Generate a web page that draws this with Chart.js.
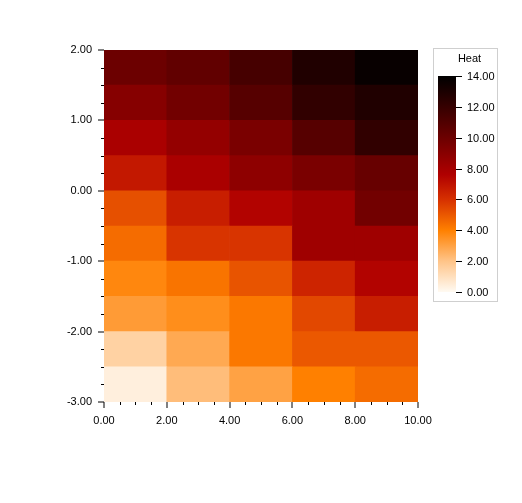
<!DOCTYPE html>
<html>
<head>
<meta charset="utf-8">
<script src="https://cdn.jsdelivr.net/npm/chart.js@4.4.0/dist/chart.umd.min.js"></script>
<style>
  html, body { margin: 0; padding: 0; background: #fff; }
  canvas { display: block; }
</style>
</head>
<body>
<canvas id="heat" width="522" height="503"></canvas>
<script>
// cell edges
const xEdges = [0, 2, 4, 6, 8, 10];
const yEdges = [-3, -2.5, -2, -1.5, -1, -0.5, 0, 0.5, 1, 1.5, 2];

// heat values, one row per y band, bottom (-3) to top (2)
const heatRows = [
  [0.4, 2.2, 3.0, 4.0, 4.5],
  [1.5, 2.8, 4.2, 5.0, 5.0],
  [3.2, 3.6, 4.2, 5.4, 6.6],
  [3.8, 4.3, 5.1, 6.4, 7.5],
  [4.5, 5.9, 5.9, 8.2, 8.2],
  [5.2, 6.6, 7.5, 8.2, 9.8],
  [6.8, 7.8, 8.8, 9.5, 10.2],
  [7.8, 8.6, 9.5, 10.8, 12.2],
  [9.1, 9.8, 10.8, 12.2, 12.8],
  [10.0, 10.4, 11.4, 12.8, 13.7],
];

const xTicks = [0, 2, 4, 6, 8, 10];
const yTicks = [-3, -2, -1, 0, 1, 2];
const heatTicks = [0, 2, 4, 6, 8, 10, 12, 14];
const heatMin = 0;
const heatMax = 14;
const heatTitle = 'Heat';

// colour map stops (value, rgb)
const cmap = [
  [0, [255, 250, 242]],
  [2, [255, 196, 136]],
  [4, [255, 128, 0]],
  [6, [214, 48, 0]],
  [7.6, [176, 0, 0]],
  [10, [108, 0, 0]],
  [14, [0, 0, 0]],
];

function heatColor(v) {
  for (let i = 1; i < cmap.length; i++) {
    if (v <= cmap[i][0]) {
      const [v0, c0] = cmap[i - 1];
      const [v1, c1] = cmap[i];
      const t = (v - v0) / (v1 - v0);
      const c = c0.map((a, k) => Math.round(a + (c1[k] - a) * t));
      return `rgb(${c[0]},${c[1]},${c[2]})`;
    }
  }
  const c = cmap[cmap.length - 1][1];
  return `rgb(${c[0]},${c[1]},${c[2]})`;
}

const datasets = heatRows.map((row, r) => ({
  data: row.map((v, i) => ({ x: (xEdges[i] + xEdges[i + 1]) / 2, y: [yEdges[r], yEdges[r + 1]] })),
  backgroundColor: row.map(heatColor),
  borderWidth: 0,
  barPercentage: 1,
  categoryPercentage: 1,
  grouped: false,
}));

// short minor ticks between the labelled ones
const minorTicks = {
  id: 'minorTicks',
  afterDraw(chart) {
    const { ctx, scales: { x, y }, chartArea } = chart;
    ctx.save();
    ctx.strokeStyle = '#000';
    ctx.lineWidth = 1;
    ctx.beginPath();
    for (let v = yEdges[0]; v <= yEdges[yEdges.length - 1] + 1e-9; v += 0.25) {
      if (Math.abs(v - Math.round(v)) < 1e-9) continue;
      const py = Math.round(y.getPixelForValue(v)) + 0.5;
      ctx.moveTo(chartArea.left - 3, py);
      ctx.lineTo(chartArea.left, py);
    }
    for (let v = xEdges[0]; v <= xEdges[xEdges.length - 1] + 1e-9; v += 0.5) {
      if (Math.abs(v / 2 - Math.round(v / 2)) < 1e-9) continue;
      const px = Math.round(x.getPixelForValue(v)) + 0.5;
      ctx.moveTo(px, chartArea.bottom);
      ctx.lineTo(px, chartArea.bottom + 3);
    }
    ctx.stroke();
    ctx.restore();
  }
};

// colour bar legend on the right
const colorBar = {
  id: 'colorBar',
  afterDraw(chart) {
    const ctx = chart.ctx;
    const box = { x: 433.5, y: 48.5, w: 64, h: 253 };
    const bar = { x: 438, top: 76, bottom: 292, w: 18 };
    ctx.save();
    ctx.strokeStyle = '#cfcfcf';
    ctx.lineWidth = 1;
    ctx.strokeRect(box.x, box.y, box.w, box.h);

    ctx.fillStyle = '#000';
    ctx.font = '11px "Liberation Sans", Arial, sans-serif';
    ctx.textAlign = 'center';
    ctx.textBaseline = 'middle';
    ctx.fillText(heatTitle, box.x + box.w / 2 + 4, 59);

    const grad = ctx.createLinearGradient(0, bar.bottom, 0, bar.top);
    cmap.forEach(([v]) => grad.addColorStop((v - heatMin) / (heatMax - heatMin), heatColor(v)));
    ctx.fillStyle = grad;
    ctx.fillRect(bar.x, bar.top, bar.w, bar.bottom - bar.top);

    ctx.strokeStyle = '#000';
    ctx.fillStyle = '#000';
    ctx.textAlign = 'left';
    ctx.beginPath();
    heatTicks.forEach(v => {
      const py = Math.round(bar.bottom - (v - heatMin) / (heatMax - heatMin) * (bar.bottom - bar.top)) + 0.5;
      ctx.moveTo(bar.x + bar.w, py);
      ctx.lineTo(bar.x + bar.w + 6, py);
      ctx.fillText(v.toFixed(2), 467, py);
    });
    ctx.stroke();
    ctx.restore();
  }
};

Chart.defaults.font.family = '"Liberation Sans", Arial, sans-serif';
Chart.defaults.font.size = 11;
Chart.defaults.color = '#000';

new Chart(document.getElementById('heat'), {
  type: 'bar',
  data: { datasets },
  options: {
    responsive: false,
    animation: false,
    layout: { padding: { top: 50, right: 104, left: 0, bottom: 0 } },
    plugins: { legend: { display: false }, tooltip: { enabled: false } },
    scales: {
      x: {
        type: 'linear',
        min: xEdges[0],
        max: xEdges[xEdges.length - 1],
        offset: false,
        grid: { offset: false, drawOnChartArea: false, drawTicks: true, tickLength: 6, tickColor: '#000', lineWidth: 0, tickWidth: 1 },
        border: { display: false },
        afterBuildTicks: s => { s.ticks = xTicks.map(v => ({ value: v })); },
        ticks: { padding: 6, maxRotation: 0, autoSkip: false, callback: v => Number(v).toFixed(2) },
        afterFit: s => { s.height = 101; },
      },
      y: {
        type: 'linear',
        min: yEdges[0],
        max: yEdges[yEdges.length - 1],
        // lineWidth 0 stops bars that touch 0 from being nudged off the baseline
        grid: { drawOnChartArea: false, drawTicks: true, tickLength: 6, tickColor: '#000', lineWidth: 0, tickWidth: 1 },
        border: { display: false },
        afterBuildTicks: s => { s.ticks = yTicks.map(v => ({ value: v })); },
        ticks: { padding: 6, autoSkip: false, callback: v => Number(v).toFixed(2) },
        afterFit: s => { s.width = 104; },
      },
    },
  },
  plugins: [minorTicks, colorBar],
});
</script>
</body>
</html>
